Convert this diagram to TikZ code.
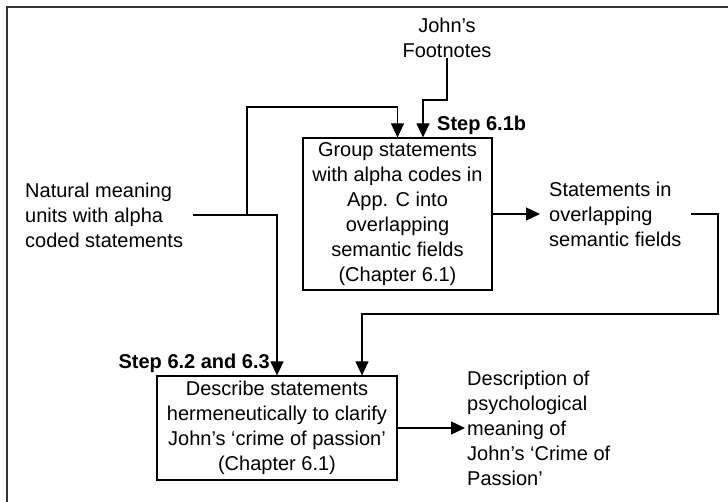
\documentclass[tikz,border=0pt]{standalone}
\usepackage{fontspec}
\setmainfont{Liberation Sans}
\usepackage{tikz}
\usetikzlibrary{positioning,calc,arrows.meta}

\begin{document}
\begin{tikzpicture}[x=1pt, y=-1pt, font=\fontsize{20}{25}\selectfont,
    box/.style={draw, rectangle, line width=1.2pt, align=center, inner sep=0pt},
    txt/.style={align=left, inner sep=0pt},
    lbl/.style={font=\fontsize{20}{25}\selectfont\bfseries, inner sep=0pt},
    flow/.style={line width=1.2pt, -{Triangle[length=14pt, width=13pt]}}]
    \useasboundingbox (0,0) rectangle (728,502);
    \draw[line width=1.6pt, black!80] (7,7) rectangle (760,540);

    % inputs
    \node[txt, align=center] (foot) at (447,37.5) {John’s\\Footnotes};
    \node[txt, anchor=west, inner xsep=10pt] (nat) at (15,215) {Natural meaning\\units with alpha\\coded statements};

    % step 6.1b
    \node[box, minimum width=189pt, minimum height=152pt] (group) at (397.5,214)
        {Group statements\\with alpha codes in\\App. C into\\overlapping\\semantic fields\\(Chapter 6.1)};
    \node[lbl, anchor=west] (step1) at (437,125) {Step 6.1b};
    \node[txt, anchor=west, inner xsep=9pt] (sem) at (540,214) {Statements in\\overlapping\\semantic fields};

    % step 6.2 and 6.3
    \node[box, minimum width=240pt, minimum height=104pt] (desc) at (277,428)
        {Describe statements\\hermeneutically to clarify\\John’s ‘crime of passion’\\(Chapter 6.1)};
    \node[lbl, anchor=east] (step2) at (270,363) {Step 6.2 and 6.3};
    \node[txt, anchor=west, inner xsep=2pt] (out) at (465,428) {Description of\\psychological\\meaning of\\John’s ‘Crime of\\Passion’};

    % connectors
    \coordinate (j1) at (247,215);
    \coordinate (t1) at (247,107);
    \coordinate (f1) at (423,100);
    \coordinate (r1) at (718,314);
    \coordinate (r2) at (362,314);
    \draw[flow] (nat.east) -| (desc.north);
    \draw[flow] (j1) -- (t1) -| (group.north);
    \draw[flow] (foot.south) |- (f1) -- (f1 |- group.north);
    \draw[flow] (group.east) -- (sem.west);
    \draw[flow] (sem.east) -| (r1) -- (r2) -- (r2 |- desc.north);
    \draw[flow] (desc.east) -- (out.west);
\end{tikzpicture}
\end{document}
